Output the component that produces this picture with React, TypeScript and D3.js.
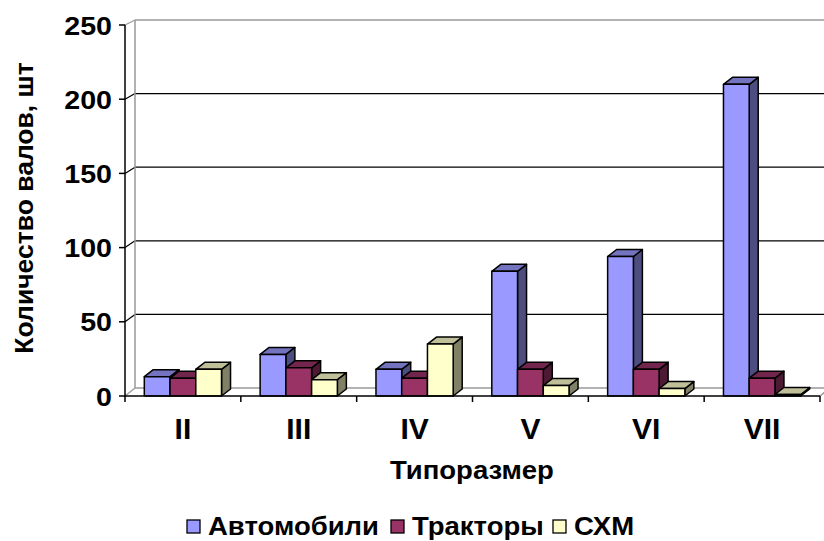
import React from "react";
import * as d3 from "d3";

const categories = ["II", "III", "IV", "V", "VI", "VII"];
const seriesNames = ["Автомобили", "Тракторы", "СХМ"];
const avtomobili = [13, 28, 18, 84, 94, 210];
const traktory = [12, 19, 12, 18, 18, 12];
const shm = [18, 11, 35, 7, 5, 1];
const yTicks = [0, 50, 100, 150, 200, 250];
const xTitle = "Типоразмер";
const yTitle = "Количество валов, шт";

const seriesValues = [avtomobili, traktory, shm];
const colors = [
  { front: "#9999FF", top: "#7373BF", side: "#4D4D80" },
  { front: "#993366", top: "#73264D", side: "#4D1A33" },
  { front: "#FFFFCC", top: "#BFBF99", side: "#808066" },
];

const W = 824;
const H = 541;
const FONT = "'Liberation Sans', Arial, sans-serif";

export default function App() {
  const x = d3.scaleBand<string>().domain(categories).range([125, 820]).padding(0);
  const xs = d3
    .scaleBand<string>()
    .domain(seriesNames)
    .range([0, x.bandwidth()])
    .paddingInner(0)
    .paddingOuter(0.75);
  const y = d3.scaleLinear().domain([0, 250]).range([396, 25]);
  const yBack = d3.scaleLinear().domain([0, 250]).range([388, 20]);
  const backDx = 10;
  const ddx = 9;
  const ddy = -7;
  const bw = xs.bandwidth();

  const leftFront = 125;
  const leftBack = leftFront + backDx;
  const rightFront = 820;
  const rightBack = 830;

  return (
    <svg
      width={W}
      height={H}
      style={{ position: "absolute", left: 0, top: 0, background: "#fff" }}
      fontFamily={FONT}
    >
      <rect x={0} y={0} width={W} height={H} fill="#fff" />
      {yTicks.map((t) => (
        <g key={"g" + t}>
          <line
            x1={leftBack}
            x2={rightBack}
            y1={yBack(t)}
            y2={yBack(t)}
            stroke={t === 0 || t === 250 ? "#999" : "#000"}
            strokeWidth={t === 0 || t === 250 ? 1.5 : 1.3}
          />
          <line
            x1={leftFront}
            y1={y(t)}
            x2={leftBack}
            y2={yBack(t)}
            stroke={t === 0 || t === 250 ? "#999" : "#000"}
            strokeWidth={1.2}
          />
        </g>
      ))}
      <line x1={leftBack} x2={leftBack} y1={yBack(0)} y2={yBack(250)} stroke="#999" strokeWidth={1.5} />
      <line x1={rightFront} y1={y(0)} x2={rightBack} y2={yBack(0)} stroke="#999" strokeWidth={1.5} />

      {categories.map((c, ci) => (
        <g key={c}>
          {seriesNames.map((s, si) => {
            const v = seriesValues[si][ci];
            const x0 = (x(c) as number) + (xs(s) as number);
            const x1 = x0 + bw;
            const yt = y(v);
            const yb = y(0);
            const col = colors[si];
            const front = `M${x0},${yb}L${x0},${yt}L${x1},${yt}L${x1},${yb}Z`;
            const top = `M${x0},${yt}L${x0 + ddx},${yt + ddy}L${x1 + ddx},${yt + ddy}L${x1},${yt}Z`;
            const side = `M${x1},${yb}L${x1},${yt}L${x1 + ddx},${yt + ddy}L${x1 + ddx},${yb + ddy}Z`;
            return (
              <g key={s} stroke="#000" strokeWidth={1.5} strokeLinejoin="round">
                <path d={side} fill={col.side} />
                <path d={top} fill={col.top} />
                <path d={front} fill={col.front} />
              </g>
            );
          })}
        </g>
      ))}

      <line x1={leftFront} x2={leftFront} y1={y(0) + 1} y2={y(250)} stroke="#000" strokeWidth={1.5} />
      <line x1={leftFront} x2={rightFront} y1={y(0)} y2={y(0)} stroke="#000" strokeWidth={1.5} />
      {yTicks.map((t) => (
        <line key={"yt" + t} x1={leftFront - 6} x2={leftFront} y1={y(t)} y2={y(t)} stroke="#000" strokeWidth={1.5} />
      ))}
      {[...categories.map((c) => x(c) as number), rightFront].map((xx, i) => (
        <line key={"xt" + i} x1={xx} x2={xx} y1={y(0)} y2={y(0) + 6} stroke="#000" strokeWidth={1.5} />
      ))}

      {yTicks.map((t) => (
        <text
          key={"yl" + t}
          transform={`translate(112,${y(t) + 9.5}) scale(1.1,1)`}
          textAnchor="end"
          fontSize={26}
          fontWeight="bold"
          fill="#000"
        >
          {t}
        </text>
      ))}
      {categories.map((c) => (
        <text
          key={"cl" + c}
          x={(x(c) as number) + x.bandwidth() / 2}
          y={439}
          textAnchor="middle"
          fontSize={30}
          fontWeight="bold"
          fill="#000"
        >
          {c}
        </text>
      ))}
      <text
        transform={`translate(472,479) scale(1.1,1)`}
        textAnchor="middle"
        fontSize={25}
        fontWeight="bold"
        fill="#000"
      >
        {xTitle}
      </text>
      <text
        transform={`translate(33,208) rotate(-90) scale(1.02,1)`}
        textAnchor="middle"
        fontSize={26}
        fontWeight="bold"
        fill="#000"
      >
        {yTitle}
      </text>

      {seriesNames.map((s, i) => {
        const lx = [187, 391, 553][i];
        return (
          <g key={"lg" + s}>
            <rect x={lx} y={520} width={13} height={13} fill={colors[i].front} stroke="#000" strokeWidth={1.3} />
            <text
              transform={`translate(${lx + 21},535) scale(1.1,1)`}
              fontSize={25}
              fontWeight="bold"
              fill="#000"
            >
              {s}
            </text>
          </g>
        );
      })}
    </svg>
  );
}
